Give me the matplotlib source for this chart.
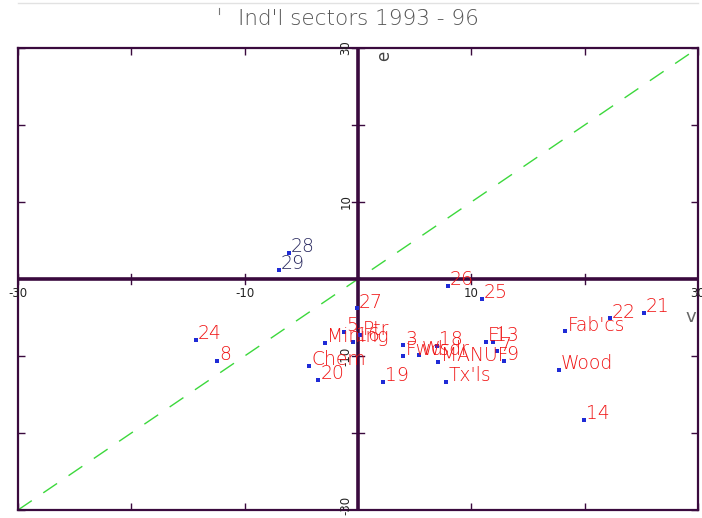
import matplotlib
matplotlib.use("Agg")
import matplotlib.pyplot as plt
from matplotlib.lines import Line2D

# Sector positions (v, e) and their labels
labels = ["28", "29", "26", "25", "27", "5", "Mining", "16", "Ptr", "Chem", "20",
          "19", "Tx'ls", "3", "Fwd", "Wsdr", "18", "MANUF", "El", "13", "7", "9",
          "24", "8", "Fab'cs", "22", "21", "Wood", "14"]
v_vals = [-6.1, -7.0, 7.9, 10.9, -0.1, -1.2, -2.9, -0.4, 0.2, -4.3, -3.5,
          2.2, 7.8, 4.0, 4.0, 5.4, 7.0, 7.1, 11.3, 11.9, 12.3, 12.9,
          -14.3, -12.4, 18.3, 22.2, 25.2, 17.7, 19.9]
e_vals = [3.4, 1.2, -0.9, -2.6, -3.8, -6.9, -8.3, -8.2, -7.3, -11.3, -13.1,
          -13.4, -13.4, -8.6, -10.0, -9.9, -8.7, -10.8, -8.2, -8.2, -9.4, -10.6,
          -7.9, -10.6, -6.8, -5.1, -4.4, -11.8, -18.3]
dark_labels = {"28", "29"}

x_ticks = [-30, -20, -10, 10, 20, 30]
x_ticklabels = {-30: "-30", -10: "-10", 10: "10", 30: "30"}
y_ticks = [-30, -20, -10, 10, 20, 30]
y_ticklabels = {-30: "-30", -10: "-10", 10: "10", 30: "30"}

AX_COLOR = "#3a0a3e"
RED = "#f01414"

fig = plt.figure(figsize=(7.02, 5.18), dpi=100)

# faint rule along the top edge
fig.add_artist(Line2D([18 / 702, 698 / 702], [1 - 3 / 518, 1 - 3 / 518],
                      color="#e2e2e2", lw=1.0))
fig.add_artist(Line2D([219 / 702, 219 / 702], [1 - 8 / 518, 1 - 14 / 518],
                      color="#777777", lw=0.8))

ax = fig.add_axes([18 / 702, 8 / 518, 680 / 702, 462 / 518])
ax.set_xlim(-30, 30)
ax.set_ylim(-30, 30)

for s in ax.spines.values():
    s.set_color(AX_COLOR)
    s.set_linewidth(1.6)

ax.set_xticks(x_ticks)
ax.set_yticks(y_ticks)
ax.tick_params(direction="in", length=5, width=1.0, color=AX_COLOR,
               top=True, right=True, labelbottom=False, labelleft=False)

# Zero axes through the origin
ax.axhline(0, color=AX_COLOR, lw=2.6, zorder=2)
ax.axvline(0, color=AX_COLOR, lw=2.6, zorder=2)
for t in x_ticks:
    ax.plot([t, t], [-0.6, 0.6], color=AX_COLOR, lw=1.0, zorder=2)
for t in y_ticks:
    ax.plot([-0.5, 0.5], [t, t], color=AX_COLOR, lw=1.0, zorder=2)

# Tick labels along the zero axes
for t, s in x_ticklabels.items():
    ax.text(t, -1.0, s, ha="center", va="top", fontsize=8.5, color="#222222",
            clip_on=False)
for t, s in y_ticklabels.items():
    yy = t if t > -30 else -29.4
    ax.text(-0.5, yy, s, ha="right", va="center", rotation=90, fontsize=8.5,
            color="#222222", clip_on=False)

# Diagonal v = e
ax.plot([-30, 30], [-30, 30], color="#3cd83c", lw=1.0,
        dashes=(12, 10), zorder=1)

# Points and labels
ax.scatter(v_vals, e_vals, marker="s", s=5, color="#1f2bd6", zorder=4,
           linewidths=0)
for lab, xv, yv in zip(labels, v_vals, e_vals):
    col = "#2a2a60" if lab in dark_labels else RED
    ax.annotate(lab, (xv, yv), xytext=(1.5, 0.5), textcoords="offset points",
                ha="left", va="baseline", fontsize=13.5, color=col,
                fontweight="light", zorder=5)

# Axis names
ax.text(29.4, -5.0, "v", ha="center", va="center", fontsize=13,
        color="#666666")
ax.text(2.3, 29.0, "e", ha="center", va="center", rotation=90, fontsize=12,
        color="#444444")

fig.text(358 / 702, 1 - 19 / 518, "Ind'l sectors 1993 - 96", ha="center",
         va="center", fontsize=15.5, color="#555555", fontweight="light")

fig.savefig("out.png", dpi=100)
